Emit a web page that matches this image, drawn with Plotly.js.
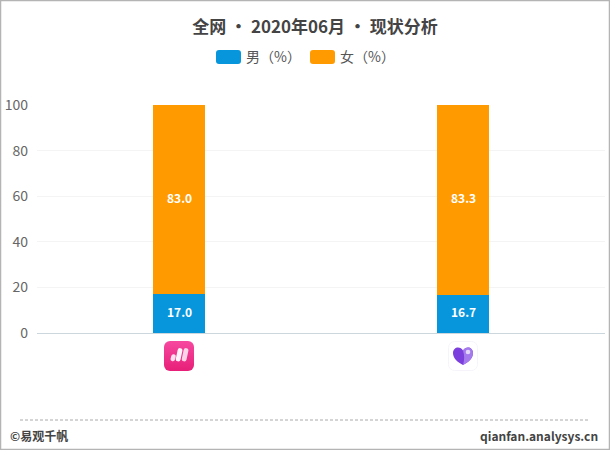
<!DOCTYPE html>
<html>
<head>
<meta charset="utf-8">
<script src="https://cdn.plot.ly/plotly-3.0.1.min.js"></script>
<style>
  html, body { margin: 0; padding: 0; background: #fff; }
  #chart { width: 610px; height: 450px; }
</style>
</head>
<body>
<div id="chart"></div>
<script>
var apps = ['app1', 'app2'];
var male = [17.0, 16.7];
var female = [83.0, 83.3];
var yTicks = [0, 20, 40, 60, 80, 100];
var legendNames = ['男（%）', '女（%）'];
var colors = ['#0796dc', '#ff9b00'];
var titleText = '全网 • 2020年06月 • 现状分析';

var CJK = '"Noto Sans CJK SC", "Noto Sans", sans-serif';

// margins: plot area is x 37-605, y 105-333
var W = 610, H = 450, L = 37, R = 5, T = 105, B = 117;
var plotW = W - L - R, plotH = H - T - B;
function px(x) { return (x - L) / plotW; }
function py(y) { return (H - B - y) / plotH; }

function trace(name, y, color) {
  return {
    type: 'bar',
    name: name,
    x: apps,
    y: y,
    width: 0.183,
    marker: { color: color },
    hoverinfo: 'name+y'
  };
}

var data = [
  trace(legendNames[0], male, colors[0]),
  trace(legendNames[1], female, colors[1])
];

/* ---------------icons under the bars--------------- */
var icon1 = '<svg xmlns="http://www.w3.org/2000/svg" width="120" height="120" viewBox="0 0 30 30">' +
  '<defs><linearGradient id="g" x1="0" y1="0" x2="0" y2="1"><stop offset="0" stop-color="#f648a0"/><stop offset="1" stop-color="#e71f78"/></linearGradient></defs>' +
  '<rect width="30" height="30" rx="6" fill="url(#g)"/>' +
  '<path d="M9.5 15.5 L8.8 18" stroke="#fff" stroke-width="4.6" stroke-linecap="round" opacity=".85" fill="none"/>' +
  '<path d="M16 9.5 L14.2 18" stroke="#fff" stroke-width="4.8" stroke-linecap="round" opacity=".95" fill="none"/>' +
  '<path d="M22 9.5 L20.2 18" stroke="#fff" stroke-width="4.8" stroke-linecap="round" opacity=".8" fill="none"/>' +
  '</svg>';
var icon2 = '<svg xmlns="http://www.w3.org/2000/svg" width="120" height="120" viewBox="0 0 30 30">' +
  '<rect x=".5" y=".5" width="29" height="29" rx="6" fill="#fff" stroke="#f6f4fa"/>' +
  '<path d="M15 24 C9 21 5 17 5 12 C5 8.5 7.5 6.5 10 6.5 C12 6.5 14 7.5 15 9.5 C16 7.5 18 6.5 20 6.5 C22.5 6.5 25 8.5 25 12 C25 17 21 21 15 24Z" fill="#7a3fdc"/>' +
  '<path d="M15 24 C21 21 25 17 25 12 C25 8.5 22.5 6.5 20 6.5 C18 6.5 16 7.5 15 9.5 C16.5 14 16.5 19 15 24Z" fill="#a47aec"/>' +
  '<circle cx="20" cy="11" r="2.3" fill="#e4d8fa"/>' +
  '</svg>';
var icons = [icon1, icon2];
var images = icons.map(function (svg, i) {
  return {
    source: 'data:image/svg+xml;charset=utf-8,' + encodeURIComponent(svg),
    xref: 'paper', yref: 'paper',
    x: (i + 0.5) / apps.length, y: py(341),
    sizex: 30 / plotW, sizey: 30 / plotH,
    xanchor: 'center', yanchor: 'top',
    layer: 'above'
  };
});

/* ---------------legend, frame and footer--------------- */
function swatch(x0, color) {
  var x1 = x0 + 25, y0 = 50, y1 = 64, r = 3;
  var path = 'M' + px(x0 + r) + ',' + py(y0) + ' L' + px(x1 - r) + ',' + py(y0) +
    ' Q' + px(x1) + ',' + py(y0) + ' ' + px(x1) + ',' + py(y0 + r) +
    ' L' + px(x1) + ',' + py(y1 - r) + ' Q' + px(x1) + ',' + py(y1) + ' ' + px(x1 - r) + ',' + py(y1) +
    ' L' + px(x0 + r) + ',' + py(y1) + ' Q' + px(x0) + ',' + py(y1) + ' ' + px(x0) + ',' + py(y1 - r) +
    ' L' + px(x0) + ',' + py(y0 + r) + ' Q' + px(x0) + ',' + py(y0) + ' ' + px(x0 + r) + ',' + py(y0) + ' Z';
  return { type: 'path', xref: 'paper', yref: 'paper', path: path, fillcolor: color, line: { width: 0 } };
}

var shapes = [
  swatch(216, colors[0]),
  swatch(310, colors[1]),
  { type: 'line', xref: 'paper', yref: 'paper', x0: px(20), x1: px(589), y0: py(420), y1: py(420),
    line: { color: '#aaaaaa', width: 1, dash: '3px,2px' } },
  { type: 'rect', xref: 'paper', yref: 'paper', x0: px(0.5), x1: px(609.5), y0: py(0.5), y1: py(449.5),
    line: { color: '#b4b4b4', width: 1.5 }, fillcolor: 'rgba(0,0,0,0)' }
];

function label(text, x, y, anchor, size, color, weight) {
  return {
    text: text, xref: 'paper', yref: 'paper', x: px(x), y: py(y),
    xanchor: anchor, yanchor: 'middle', showarrow: false,
    font: { family: CJK, size: size, color: color, weight: weight }
  };
}

// value labels sit in the middle of each stacked segment
function valueLabels(values, bases) {
  return values.map(function (v, i) {
    return {
      text: v.toFixed(1), x: apps[i], y: bases[i] + v / 2,
      xref: 'x', yref: 'y', yshift: 2, showarrow: false,
      font: { family: CJK, size: 12, color: '#fff', weight: 700 }
    };
  });
}

var annotations = [
  label(legendNames[0], 244, 56, 'left', 14, '#555555', 400),
  label(legendNames[1], 338, 56, 'left', 14, '#555555', 400),
  label('©易观千帆', 8, 435, 'left', 12, '#444444', 700),
  label('qianfan.analysys.cn', 600, 435, 'right', 12, '#444444', 700)
].concat(valueLabels(male, [0, 0]), valueLabels(female, male));

var layout = {
  width: W,
  height: H,
  margin: { l: L, r: R, t: T, b: B, pad: 0 },
  paper_bgcolor: '#fff',
  plot_bgcolor: '#fff',
  barmode: 'stack',
  showlegend: false,
  title: {
    text: titleText,
    font: { family: CJK, size: 17, color: '#444444', weight: 700 },
    x: 315 / W, xanchor: 'center',
    y: 1 - 27 / H, yanchor: 'middle'
  },
  xaxis: {
    type: 'category',
    showticklabels: false,
    ticks: '',
    showgrid: false,
    zeroline: false,
    showline: false
  },
  yaxis: {
    range: [0, 100],
    tickvals: yTicks,
    ticks: '',
    tickfont: { family: CJK, size: 14, color: '#666666' },
    gridcolor: '#f4f4f4',
    gridwidth: 1,
    zeroline: true,
    zerolinecolor: '#ccd6dd',
    zerolinewidth: 1,
    showline: false,
    ticklabelstandoff: 8
  },
  images: images,
  shapes: shapes,
  annotations: annotations
};

Plotly.newPlot('chart', data, layout, { displayModeBar: false });
</script>
</body>
</html>
